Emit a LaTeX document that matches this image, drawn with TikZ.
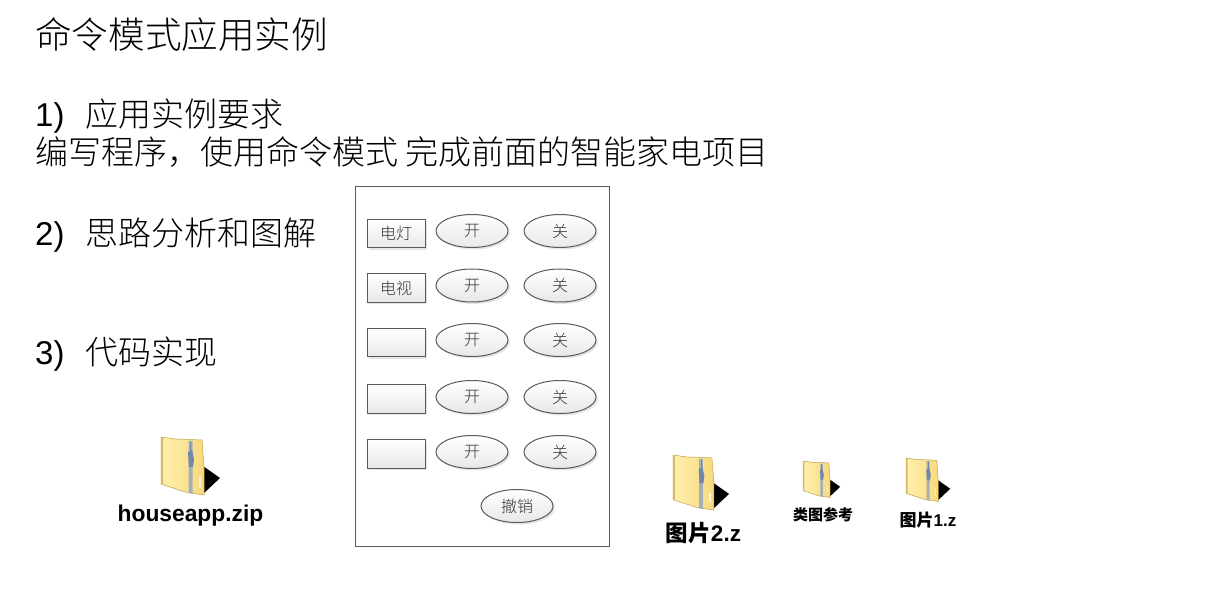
\documentclass[tikz,border=0pt]{standalone}
\usepackage{fontspec}
\usetikzlibrary{shapes.geometric,shadows}
\setmainfont{Liberation Sans}
\newfontfamily\cjk{Noto Sans CJK SC}
\newfontfamily\cjkl{Noto Sans CJK SC Light}
\definecolor{edgegray}{RGB}{90,90,90}
\definecolor{inktext}{RGB}{50,50,50}
\definecolor{fillend}{RGB}{232,232,232}
\definecolor{folderL}{RGB}{255,240,175}
\definecolor{folderY}{RGB}{247,217,125}
\definecolor{folderD}{RGB}{195,160,75}
\definecolor{zipB}{RGB}{165,175,185}
\definecolor{zipD}{RGB}{110,135,170}
\tikzset{
  x=1pt,y=-1pt,
  txt/.style={anchor=base west,inner sep=0pt,text=black},
  panel/.style={draw=edgegray,line width=1.1pt,fill=white},
  label box/.style={rectangle,draw=edgegray,line width=1pt,minimum width=58pt,minimum height=28.5pt,inner sep=0pt,top color=white,bottom color=fillend,text=inktext,font=\cjkl\fontsize{16}{16}\selectfont,drop shadow={shadow xshift=2pt,shadow yshift=-2pt,opacity=.2}},
  oval/.style={ellipse,draw=edgegray,line width=1pt,minimum width=72pt,minimum height=33pt,inner sep=0pt,top color=white,bottom color=fillend,text=inktext,font=\cjkl\fontsize{16}{16}\selectfont,drop shadow={shadow xshift=2pt,shadow yshift=-2pt,opacity=.2}},
  caption/.style={inner sep=0pt,text=black},
}
\newcommand{\zipfolder}[3]{% x, y (top-left), scale
  \begin{scope}[shift={(#1,#2)},scale=#3]
    \fill[black] (42,29) -- (59,41) -- (42,57) -- cycle;
    \shade[left color=folderL,right color=folderY,draw=folderD,line width=.5pt]
      (0,0) -- (14,2) -- (41,3) -- (43,30) -- (43,58) -- (24,55) -- (0,47) -- cycle;
    \fill[folderD!55!folderY] (0,0) -- (2,.5) -- (2,47.5) -- (0,47) -- cycle;
    \fill[zipB] (27.5,4) -- (31.5,4) -- (31.5,57) -- (27.5,56) -- cycle;
    \draw[zipD,line width=.8pt] (29.5,5) -- (29.5,14);
    \fill[zipD] (27,15) -- (31,13) -- (33,22) -- (32,30) -- (28,30) -- cycle;
    \fill[white,opacity=.7] (38,40) rectangle (40,50);
  \end{scope}
}
\begin{document}
\begin{tikzpicture}
\useasboundingbox (0,0) rectangle (1227,609);
\fill[white] (0,0) rectangle (1227,609);
\node[txt,font=\cjkl\fontsize{36.6}{36.6}\selectfont] (title) at (35,49) {命令模式应用实例};
\node[txt,font=\fontsize{33}{33}\selectfont] (r1) at (35,127) {1)};
\node[txt,font=\cjkl\fontsize{33}{33}\selectfont] (r1t) at (85,127) {应用实例要求};
\node[txt,font=\cjkl\fontsize{33}{33}\selectfont] (r1b) at (35,165) {编写程序\symbol{"FF0C}使用命令模式 完成前面的智能家电项目};
\node[txt,font=\fontsize{33}{33}\selectfont] (r2) at (35,246) {2)};
\node[txt,font=\cjkl\fontsize{33}{33}\selectfont] (r2t) at (85,246) {思路分析和图解};
\node[txt,font=\fontsize{33}{33}\selectfont] (r3) at (35,365) {3)};
\node[txt,font=\cjkl\fontsize{33}{33}\selectfont] (r3t) at (85,365) {代码实现};
\draw[panel] (355.5,186.5) rectangle (609.5,546.5);
\node[label box] (b1) at (396,233.5) {电灯};
\node[label box] (b2) at (396,288) {电视};
\node[label box] (b3) at (396,342.5) {};
\node[label box] (b4) at (396,399) {};
\node[label box] (b5) at (396,454) {};
\node[oval] (on1) at (472,231) {开};
\node[oval] (off1) at (560,231) {关};
\node[oval] (on2) at (472,285.5) {开};
\node[oval] (off2) at (560,285.5) {关};
\node[oval] (on3) at (472,340) {开};
\node[oval] (off3) at (560,340) {关};
\node[oval] (on4) at (472,397) {开};
\node[oval] (off4) at (560,397) {关};
\node[oval] (on5) at (472,452) {开};
\node[oval] (off5) at (560,452) {关};
\node[oval] (undo) at (517,506) {撤销};
\zipfolder{161}{437}{1}
\zipfolder{673}{455}{.95}
\zipfolder{803}{461}{.63}
\zipfolder{906}{458}{.75}
\node[caption,font=\bfseries\fontsize{22.8}{22.8}\selectfont] (c1) at (190.5,516) {houseapp.zip};
\node[caption,font=\bfseries\fontsize{22.5}{22.5}\selectfont] (c2) at (703.5,533.5) {{\cjk\bfseries 图片}2.z};
\node[caption,font=\cjk\bfseries\fontsize{15}{15}\selectfont] (c3) at (823,515) {类图参考};
\node[caption,font=\bfseries\fontsize{17}{17}\selectfont] (c4) at (928,520) {{\cjk\bfseries 图片}1.z};
\end{tikzpicture}
\end{document}
